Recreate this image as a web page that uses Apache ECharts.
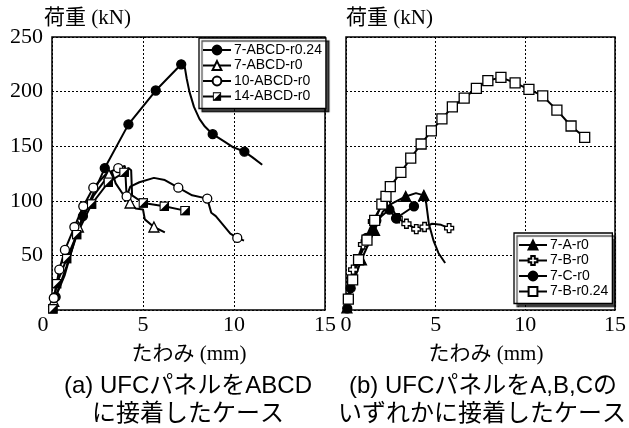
<!DOCTYPE html>
<html><head><meta charset="utf-8">
<script src="https://cdn.jsdelivr.net/npm/echarts@6/dist/echarts.min.js"></script>
<style>html,body{margin:0;padding:0;background:#fff}#c{width:629px;height:428px}</style>
</head><body><div id="c"></div>
<script>
// ---- data: [deflection mm, load kN, marker(1) ] ----
const xTicks = [0, 5, 10, 15];
const yTicks = [50, 100, 150, 200, 250];
const leftNames = ['7-ABCD-r0.24', '7-ABCD-r0', '10-ABCD-r0', '14-ABCD-r0'];
const rightNames = ['7-A-r0', '7-B-r0', '7-C-r0', '7-B-r0.24'];

const abcd_r024 = [[0.2,12,1],[0.8,40,0],[1.7,86,1],[2.9,130,1],[4.2,170,1],[5.7,201,1],[7.1,225,1],[7.3,222,0],[7.4,212,0],[7.55,200,0],[7.8,186,0],[8.1,175,0],[8.4,168,0],[8.83,161,1],[9.5,154,0],[9.96,149,0],[10.57,145,1],[11.0,140,0],[11.55,133,0]];
const abcd_r0 = [[0.1,8,1],[0.7,32,0],[1.45,76,1],[2.3,105,0],[3.13,124,1],[3.3,126,0],[3.5,116,0],[3.9,106,0],[4.29,98,1],[4.6,93,0],[5.0,92,0],[5.1,83,0],[5.6,76,1],[6.2,71,0]];
const abcd10_r0 = [[0.1,11,1],[0.4,37,1],[0.71,55,1],[1.23,76,1],[1.72,95,1],[2.27,112,1],[3.0,125,0],[3.64,130,1],[4.0,132,0],[4.05,120,0],[4.1,104,1],[4.3,113,0],[4.8,117,0],[5.6,121,0],[6.2,119,0],[6.94,112,1],[7.7,105,0],[8.53,102,1],[8.75,89,0],[9.0,86,0],[9.8,70,0],[10.18,66,1],[10.55,63.5,0]];
const abcd14_r0 = [[0.05,1,1],[0.26,24,1],[0.81,47,1],[1.36,69,1],[2.18,97,1],[3.1,117,1],[3.96,126,1],[4.2,130,0],[4.35,128,0],[4.4,105,0],[5.02,98,1],[6.17,95,1],[7.31,91,1]];

const a_r0 = [[0.05,2,1],[0.4,25,0],[0.86,46,1],[1.59,73,1],[2.05,90,0],[2.5,97,0],[3.33,104,1],[3.9,107,0],[4.34,105,1],[4.47,98,0],[4.62,79,0],[4.89,63,0],[5.16,52,0],[5.53,43,0]];
const b_r0 = [[0.13,11,1],[0.4,37,1],[0.95,60,1],[1.5,81,1],[2.05,98,1],[2.38,102,0],[2.6,92,0],[2.88,84,1],[3.37,79,1],[3.92,74,1],[4.38,76,1],[4.8,79,0],[5.3,78,0],[5.75,75,1]];
const c_r0 = [[0.07,1.5,1],[0.26,20,1],[0.68,46,1],[1.14,66,1],[1.69,82,1],[2.42,92,1],[2.79,84,1],[3.79,95,1]];
const b_r024 = [[0.13,10,1],[0.37,27.5,1],[0.7,46,1],[1.17,64,1],[1.6,82,1],[2.0,97,1],[2.23,104,1],[2.47,113,1],[3.06,126,1],[3.61,139,1],[4.19,152,1],[4.76,164,1],[5.35,175,1],[5.93,186,1],[6.59,194,1],[7.27,203,1],[7.91,210,1],[8.64,213,1],[9.43,208,1],[10.2,202,1],[10.97,196,1],[11.76,183,1],[12.55,168.5,1],[13.31,158,1]];

const halfSq = 'image://data:image/svg+xml;utf8,' + encodeURIComponent(
  "<svg xmlns='http://www.w3.org/2000/svg' width='20' height='20'><rect x='1.5' y='1.5' width='17' height='17' fill='white' stroke='black' stroke-width='2.5'/><path d='M18.5 1.5 L18.5 18.5 L1.5 18.5 Z' fill='black'/></svg>");
const plus = 'path://M3,0 L7,0 L7,3 L10,3 L10,7 L7,7 L7,10 L3,10 L3,7 L0,7 L0,3 L3,3 Z';

function mk(name, pts, grid, sym, fill, size) {
  return {
    name: name, type: 'line', xAxisIndex: grid, yAxisIndex: grid,
    symbol: sym, symbolSize: size || 9, showSymbol: true,
    lineStyle: {color: '#000', width: 2},
    itemStyle: {color: fill, borderColor: '#000', borderWidth: 1.3},
    emphasis: {disabled: true}, animation: false,
    data: pts.map(p => p[2] ? {value: [p[0], p[1]]} : {value: [p[0], p[1]], symbol: 'none'})
  };
}

const serif = "'Liberation Serif','Times New Roman',serif";
const mixSerif = "'Liberation Serif','Noto Sans CJK JP',serif";
const mixSans = "'Liberation Sans','Noto Sans CJK JP',sans-serif";

function xAx(i) {
  return {
    gridIndex: i, type: 'value', min: xTicks[0], max: xTicks[xTicks.length-1], interval: 5,
    axisLine: {show: false}, axisTick: {show: false},
    splitLine: {show: true, lineStyle: {color: '#000', type: [2, 2], width: 1}},
    axisLabel: {
      margin: 4, color: '#000', fontSize: 22, fontFamily: serif,
      formatter: v => (i === 0 && v === 0) ? '{z|0}' : String(v),
      rich: {z: {fontSize: 22, fontFamily: serif, color: '#000', padding: [0, 18, 0, 0]}}
    }
  };
}
function yAx(i) {
  return {
    gridIndex: i, type: 'value', min: 0, max: 250, interval: 50,
    axisLine: {show: false}, axisTick: {show: false},
    splitLine: {show: true, lineStyle: {color: '#000', type: [2, 2], width: 1}},
    axisLabel: {
      show: i === 0, margin: 9, color: '#000', fontSize: 22, fontFamily: serif,
      formatter: v => v === 0 ? '' : String(v)
    }
  };
}

const legendBase = {
  orient: 'vertical', itemWidth: 28, itemHeight: 11, itemGap: 1.5,
  backgroundColor: '#fff', borderColor: '#000', borderWidth: 1.3,
  shadowColor: 'rgba(0,0,0,0.7)', shadowBlur: 1, shadowOffsetX: 3, shadowOffsetY: 3,
  textStyle: {fontSize: 14, lineHeight: 14, fontFamily: "'Liberation Sans',Arial,sans-serif", color: '#000', padding: [0,0,0,-2]},
  inactiveColor: '#000', selectedMode: false
};

const chart = echarts.init(document.getElementById('c'), null, {renderer: 'canvas'});
chart.setOption({
  backgroundColor: '#fff',
  animation: false,
  grid: [
    {left: 52, top: 37, width: 273, height: 273, show: true, borderColor: '#000', borderWidth: 1.5, backgroundColor: 'transparent'},
    {left: 346, top: 37, width: 274, height: 273, show: true, borderColor: '#000', borderWidth: 1.5, backgroundColor: 'transparent'}
  ],
  xAxis: [xAx(0), xAx(1)],
  yAxis: [yAx(0), yAx(1)],
  legend: [
    Object.assign({}, legendBase, {data: leftNames, left: 199, top: 38, padding: [5, 4, 5, 3]}),
    Object.assign({}, legendBase, {data: rightNames, left: 514, top: 233, padding: [5, 4, 5, 4]})
  ],
  series: [
    mk(leftNames[0], abcd_r024, 0, 'circle', '#000'),
    mk(leftNames[1], abcd_r0, 0, 'triangle', '#fff', 10),
    mk(leftNames[2], abcd10_r0, 0, 'circle', '#fff'),
    mk(leftNames[3], abcd14_r0, 0, halfSq, '#000', 10),
    mk(rightNames[0], a_r0, 1, 'triangle', '#000', 10),
    mk(rightNames[1], b_r0, 1, plus, '#fff', 9),
    mk(rightNames[2], c_r0, 1, 'circle', '#000'),
    mk(rightNames[3], b_r024, 1, 'rect', '#fff', 10)
  ],
  graphic: [
    {type: 'text', left: 44, top: 8, style: {text: '荷重 (kN)', font: "21px " + mixSerif, fill: '#000'}},
    {type: 'text', left: 346, top: 8, style: {text: '荷重 (kN)', font: "21px " + mixSerif, fill: '#000'}},
    {type: 'text', x: 189, y: 354, style: {text: 'たわみ (mm)', font: "21px " + mixSerif, fill: '#000', align: 'center', verticalAlign: 'middle'}},
    {type: 'text', x: 486, y: 354, style: {text: 'たわみ (mm)', font: "21px " + mixSerif, fill: '#000', align: 'center', verticalAlign: 'middle'}},
    {type: 'text', x: 188, y: 386, style: {text: '(a) UFCパネルをABCD', font: "24px " + mixSans, fill: '#000', align: 'center', verticalAlign: 'middle'}},
    {type: 'text', x: 188, y: 414, style: {text: 'に接着したケース', font: "24px " + mixSans, fill: '#000', align: 'center', verticalAlign: 'middle'}},
    {type: 'text', x: 483, y: 386, style: {text: '(b) UFCパネルをA,B,Cの', font: "24px " + mixSans, fill: '#000', align: 'center', verticalAlign: 'middle'}},
    {type: 'text', x: 482, y: 414, style: {text: 'いずれかに接着したケース', font: "24px " + mixSans, fill: '#000', align: 'center', verticalAlign: 'middle'}}
  ]
});
</script></body></html>
